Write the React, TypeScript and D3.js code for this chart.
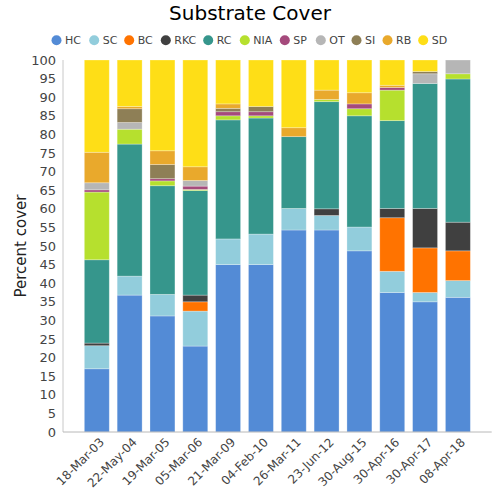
import React from "react";
import * as d3 from "d3";

const categories = ["18-Mar-03","22-May-04","19-Mar-05","05-Mar-06","21-Mar-09","04-Feb-10","26-Mar-11","23-Jun-12","30-Aug-15","30-Apr-16","30-Apr-17","08-Apr-18"];
const seriesNames = ["HC","SC","BC","RKC","RC","NIA","SP","OT","SI","RB","SD"];
const seriesColors = ["#538bd6","#92cddc","#ff7300","#404040","#36968c","#b6e02e","#a54a7c","#b6b6b6","#8e7f56","#e9a92c","#fede17"];

const HC  = [17.0,36.8,31.2,23.1,45.0,45.0,54.3,54.3,48.7,37.5,35.0,36.2];
const SC  = [6.2,5.1,5.8,9.4,6.9,8.2,5.8,3.9,6.4,5.7,2.5,4.5];
const BC  = [0,0,0,2.5,0,0,0,0,0,14.4,12.0,8.0];
const RKC = [0.7,0,0,1.8,0,0,0,1.8,0,2.5,10.6,7.7];
const RC  = [22.4,35.5,29.2,28.1,32.0,31.2,19.3,28.8,29.9,23.6,33.6,38.5];
const NIA = [18.2,4.0,1.3,0.3,1.1,0.6,0,0.6,1.9,8.2,0,1.4];
const SP  = [0.6,0,0.6,0.9,1.1,1.1,0,0,1.3,0.7,0,0];
const OT  = [1.9,1.8,0,1.5,0,0,0,0,0,0,2.6,3.7];
const SI  = [0,3.7,3.8,0,0.9,1.4,0,0,0,0,0.6,0];
const RB  = [8.2,0.6,3.7,3.7,1.2,0,2.4,2.5,3.0,0.6,0,0];
const SD  = [24.8,12.5,24.4,28.7,11.8,12.5,18.2,8.1,8.8,6.8,3.1,0];

const seriesValues = [HC,SC,BC,RKC,RC,NIA,SP,OT,SI,RB,SD];
const yTicks = d3.range(0, 101, 5);

const FONT = "DejaVu Sans, Verdana, sans-serif";

export default function App() {
  const W = 500, H = 500;
  const left = 63, right = 491.7, top = 60, bottom = 432;

  const rows = categories.map((c, i) => {
    const r: any = { cat: c };
    seriesNames.forEach((s, j) => { r[s] = seriesValues[j][i]; });
    return r;
  });
  const stacked = d3.stack<any>().keys(seriesNames)(rows);

  const x = d3.scaleBand<string>().domain(categories).range([left, right]).paddingInner(0.24).paddingOuter(0.65);
  const y = d3.scaleLinear().domain([0, 100]).range([bottom, top]);

  const legendTextX = [65, 102.7, 137.7, 174.3, 216.7, 253.3, 293.3, 329.3, 365, 396, 431.7];

  return (
    <svg width={W} height={H} style={{ position: "absolute", left: 0, top: 0, background: "#fff" }} fontFamily={FONT}>
      <text x={250} y={20} textAnchor="middle" fontSize={20} fill="#000">Substrate Cover</text>
      {seriesNames.map((s, i) => (
        <g key={s}>
          <circle cx={legendTextX[i] - 8.5} cy={40.3} r={5} fill={seriesColors[i]} />
          <text x={legendTextX[i]} y={44.3} fontSize={11} fill="#444">{s}</text>
        </g>
      ))}
      <text transform={`translate(26,246) rotate(-90)`} textAnchor="middle" fontSize={15} fill="#222">Percent cover</text>
      {yTicks.map(t => (
        <text key={t} x={56} y={y(t)} dy="0.35em" textAnchor="end" fontSize={13} fill="#444">{t}</text>
      ))}
      {stacked.map((layer, j) => (
        <g key={layer.key} fill={seriesColors[j]}>
          {layer.map((d, i) => {
            const h = y(d[0]) - y(d[1]);
            if (h <= 0) return null;
            return (
              <rect key={i} x={x(categories[i])} y={y(d[1])} width={x.bandwidth()} height={h}
                stroke="#ffffff" strokeOpacity={0.35} strokeWidth={0.8} />
            );
          })}
        </g>
      ))}
      <line x1={left} x2={left} y1={top} y2={bottom} stroke="#c8c8c8" strokeWidth={1} />
      <line x1={left} x2={right} y1={bottom} y2={bottom} stroke="#b8b8b8" strokeWidth={1} />
      {categories.map(c => {
        const cx = (x(c) as number) + x.bandwidth() / 2 + 5;
        return (
          <text key={c} transform={`translate(${cx},${bottom + 8}) rotate(-45)`} textAnchor="end" dy="0.35em" fontSize={12} fill="#444">{c}</text>
        );
      })}
    </svg>
  );
}
